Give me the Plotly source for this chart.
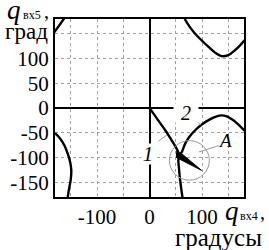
import plotly.graph_objects as go

# ---- data (degrees) ----
top_left_x = [-185, -172, -160]
top_left_y = [148, 167, 185]

bottom_left_x = [-180, -170, -162, -155, -151, -149, -150, -153, -156]
bottom_left_y = [-51, -62, -76, -95, -110, -125, -145, -162, -182]

top_right_x = [67, 76, 87, 100, 112, 125, 137, 150, 163, 172, 181]
top_right_y = [180, 165, 150, 136, 124, 112, 105, 107, 117, 126, 137]

curve2_x = [63, 60, 58, 56, 55, 57, 62, 68, 76, 87, 99, 115, 128, 137, 147, 157, 168, 181]
curve2_y = [-182, -160, -143, -120, -105, -97, -88, -72, -58, -45, -34, -23, -17, -15, -17, -23, -32, -46]

curve1_x = [0, 8, 20, 32, 42, 50, 55]
curve1_y = [0, -12, -30, -48, -65, -79, -89]

wedge_x = [52, 63, 99, 61, 51, 52]
wedge_y = [-87, -94, -126, -106, -100, -87]

grid_vals = [-150, -100, -50, 0, 50, 100, 150]
x_tick_text = ["", "-100", "", "0", "", "100", ""]
y_tick_text = ["-150", "-100", "-50", "0", "50", "100", ""]

circle_center = (76, -106)
circle_radius = (38, 40)

leader_A_x = [94, 132]
leader_A_y = [-89, -76]
leader_2_x = [87, 98]
leader_2_y = [-23, -35]
leader_1_x = [17, 33]
leader_1_y = [-67, -55]

label_pos = {"1": (-2, -93), "2": (69, -11), "A": (144, -65)}

# ---- figure ----
BLACK = "black"
FONT = "Times New Roman, Liberation Serif, Tinos, serif"
fig = go.Figure()

for xs, ys in [(top_left_x, top_left_y), (bottom_left_x, bottom_left_y),
               (top_right_x, top_right_y), (curve2_x, curve2_y),
               (curve1_x, curve1_y)]:
    fig.add_trace(go.Scatter(x=xs, y=ys, mode="lines", line=dict(color=BLACK, width=2.4, shape="spline"),
                             hoverinfo="skip", showlegend=False))

fig.add_trace(go.Scatter(x=wedge_x, y=wedge_y, mode="lines", fill="toself", fillcolor=BLACK,
                         line=dict(color=BLACK, width=1), hoverinfo="skip", showlegend=False))

for lx, ly in [(leader_A_x, leader_A_y), (leader_2_x, leader_2_y), (leader_1_x, leader_1_y)]:
    fig.add_trace(go.Scatter(x=lx, y=ly, mode="lines", line=dict(color="#999999", width=1),
                             hoverinfo="skip", showlegend=False))

fig.add_shape(type="circle", xref="x", yref="y",
              x0=circle_center[0] - circle_radius[0], x1=circle_center[0] + circle_radius[0],
              y0=circle_center[1] - circle_radius[1], y1=circle_center[1] + circle_radius[1],
              line=dict(color="#999999", width=1))

W, H = 269, 250
ML, MR, MT, MB = 55, 25, 19, 53
PW, PH = W - ML - MR, H - MT - MB


def px(xp):
    return (xp - ML) / PW


def py(yp):
    return (H - MB - yp) / PH


axis_common = dict(range=[-180, 180], tickvals=grid_vals, showgrid=True, gridcolor="#a0a0a0",
                   griddash="dot", gridwidth=1, showline=True, mirror=True, linecolor=BLACK,
                   linewidth=2, zeroline=True, zerolinecolor=BLACK, zerolinewidth=2, ticks="",
                   automargin=False,
                   tickfont=dict(family=FONT, size=21, color=BLACK), fixedrange=True)

fig.update_xaxes(ticktext=x_tick_text, **axis_common)
fig.update_yaxes(ticktext=y_tick_text, **axis_common)


def txt(text, x, y, size, xanchor="left", yanchor="middle"):
    return dict(text=text, x=px(x), y=py(y), xref="paper", yref="paper", xanchor=xanchor,
                yanchor=yanchor, showarrow=False, font=dict(family=FONT, size=size, color=BLACK))


ann = [
    txt("<i>q</i>", 5, 10, 27),
    txt("вх5", 21, 15, 12),
    txt(",", 42, 11, 20),
    txt("град", 3, 31, 23),
    txt("<i>q</i>", 223, 211, 27),
    txt("вх4", 238, 216, 12),
    txt(",", 258, 212, 20),
    txt("градусы", 264, 237, 25, xanchor="right"),
]
# curve labels
ann.append(dict(text="<i>1</i>", x=label_pos["1"][0], y=label_pos["1"][1], xref="x", yref="y",
                showarrow=False, bgcolor="white", width=10, height=18,
                font=dict(family=FONT, size=21, color=BLACK)))
ann.append(dict(text="<i>2</i>", x=label_pos["2"][0], y=label_pos["2"][1], xref="x", yref="y",
                showarrow=False, bgcolor="white", width=22, height=16,
                font=dict(family=FONT, size=20, color=BLACK)))
ann.append(dict(text="<i>A</i>", x=label_pos["A"][0], y=label_pos["A"][1], xref="x", yref="y",
                showarrow=False, font=dict(family=FONT, size=19, color=BLACK)))

fig.update_layout(width=W, height=H, margin=dict(l=ML, r=MR, t=MT, b=MB, pad=0, autoexpand=False),
                  font=dict(family=FONT, size=21, color=BLACK),
                  paper_bgcolor="white", plot_bgcolor="white", annotations=ann, showlegend=False)

fig.write_html("out.html", config={"displayModeBar": False},
               post_script="document.body.style.margin='0';document.body.style.padding='0';")
